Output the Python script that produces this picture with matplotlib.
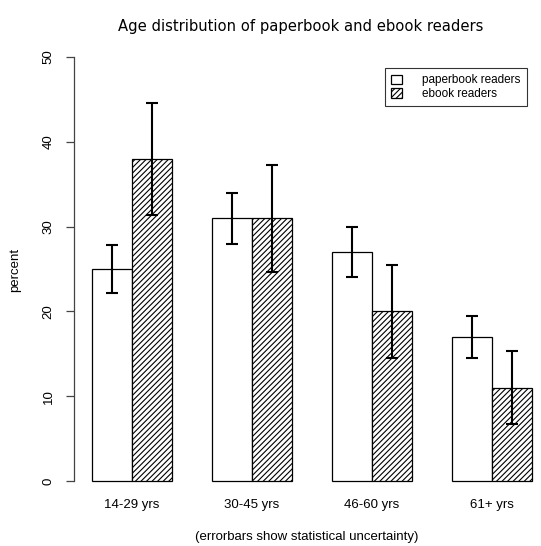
import matplotlib
matplotlib.use("Agg")
import matplotlib.pyplot as plt
import numpy as np

plt.rcParams['hatch.linewidth'] = 0.8

groups = ["14-29 yrs", "30-45 yrs", "46-60 yrs", "61+ yrs"]
series = ["paperbook readers", "ebook readers"]
paper = [25, 31, 27, 17]
ebook = [38, 31, 20, 11]
paper_lo = [22.2, 28.0, 24.1, 14.5]
paper_hi = [27.8, 34.0, 29.9, 19.5]
ebook_lo = [31.4, 24.7, 14.5, 6.7]
ebook_hi = [44.6, 37.3, 25.5, 15.3]
yticks = [0, 10, 20, 30, 40, 50]

W, H = 541, 546
fig = plt.figure(figsize=(W / 100, H / 100), dpi=100)
left_px, right_px, top_px, bot_px = 74, 541, 40, 498
ax = fig.add_axes([left_px / W, 1 - bot_px / H, (right_px - left_px) / W, (bot_px - top_px) / H])

font = "Liberation Sans"
n = len(groups)
x_paper = np.array([1.5 + 3 * i for i in range(n)])
x_ebook = x_paper + 1

ax.bar(x_paper, paper, width=1, color="white", edgecolor="black", linewidth=0.9, label=series[0], zorder=2)
ax.bar(x_ebook, ebook, width=1, color="white", edgecolor="black", linewidth=0.9, hatch="//////", label=series[1], zorder=2)

p = np.array(paper); e = np.array(ebook)
ax.errorbar(x_paper, p, yerr=[p - np.array(paper_lo), np.array(paper_hi) - p], fmt="none",
            ecolor="black", elinewidth=1.5, capsize=4.5, capthick=1.5, zorder=3)
ax.errorbar(x_ebook, e, yerr=[e - np.array(ebook_lo), np.array(ebook_hi) - e], fmt="none",
            ecolor="black", elinewidth=1.5, capsize=4.5, capthick=1.5, zorder=3)

ax.set_xlim(1 - (92 - left_px) / 40, 1 + (right_px - 92) / 40)
ax.set_ylim(-2, 52)

for s in ["top", "right", "bottom"]:
    ax.spines[s].set_visible(False)
ax.spines["left"].set_bounds(0, 50)
ax.spines["left"].set_color("#444444")
ax.spines["left"].set_linewidth(0.9)
ax.set_yticks(yticks)
ax.set_yticklabels([str(t) for t in yticks], rotation=90, va="center", fontsize=9.5, family=font)
ax.tick_params(axis="y", length=6, width=0.9, color="#444444", pad=8)

ax.set_xticks((x_paper + x_ebook) / 2)
ax.set_xticklabels(groups, fontsize=9.5, family=font)
ax.tick_params(axis="x", length=0, pad=1)

fig.text(301 / W, 1 - 27 / H, "Age distribution of paperbook and ebook readers",
         ha="center", va="center", fontsize=10.6, family="DejaVu Sans")
fig.text(307 / W, 1 - 537 / H, "(errorbars show statistical uncertainty)", ha="center", va="center",
         fontsize=9.5, family=font)
fig.text(15 / W, 1 - 270 / H, "percent", ha="center", va="center", rotation=90, fontsize=9.5, family=font)

leg = ax.legend(loc="upper right", bbox_to_anchor=((527 - left_px) / (right_px - left_px), (bot_px - 68) / (bot_px - top_px)),
                frameon=True, fancybox=False, edgecolor="black", prop={"family": font, "size": 8.5},
                handlelength=0.9, handleheight=0.9, handletextpad=1.7, borderpad=0.55, labelspacing=0.1,
                borderaxespad=0)
leg.get_frame().set_linewidth(0.8)

fig.savefig("out.png", dpi=100)
